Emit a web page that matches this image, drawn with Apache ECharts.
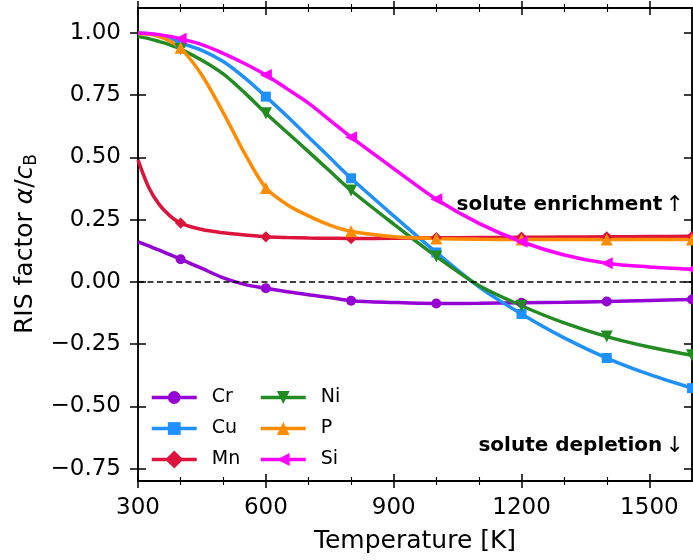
<!DOCTYPE html>
<html style="height: 100%">
<head>
<meta charset="utf-8">
<title>RIS factor</title>
</head>
<body style="height: 100%; margin: 0">
<div id="container" style="width: 693px; height: 560px"></div>
<script src="https://cdn.jsdelivr.net/npm/echarts@6/dist/echarts.min.js"></script>
<script>
var temps = [300, 325, 350, 375, 400, 450, 500, 550, 600, 650, 700, 750, 800, 900, 1000, 1100, 1200, 1300, 1400, 1500, 1600];
var markerTemps = [400, 600, 800, 1000, 1200, 1400, 1600];

var cr = [0.161, 0.144, 0.127, 0.109, 0.091, 0.054, 0.016, -0.01, -0.026, -0.04, -0.052, -0.063, -0.076, -0.083, -0.087, -0.086, -0.084, -0.082, -0.079, -0.075, -0.071];
var cu = [1.0, 0.997, 0.99, 0.978, 0.96, 0.93, 0.885, 0.82, 0.744, 0.665, 0.582, 0.499, 0.416, 0.265, 0.118, -0.02, -0.129, -0.225, -0.306, -0.372, -0.427];
var mn = [0.49, 0.38, 0.31, 0.265, 0.236, 0.21, 0.197, 0.188, 0.181, 0.178, 0.176, 0.175, 0.174, 0.175, 0.177, 0.178, 0.179, 0.18, 0.181, 0.182, 0.183];
var ni = [0.985, 0.977, 0.965, 0.952, 0.935, 0.89, 0.835, 0.76, 0.677, 0.6, 0.523, 0.445, 0.367, 0.232, 0.102, -0.015, -0.096, -0.165, -0.22, -0.262, -0.295];
var p = [0.998, 0.995, 0.985, 0.967, 0.94, 0.83, 0.68, 0.517, 0.377, 0.31, 0.265, 0.228, 0.203, 0.181, 0.174, 0.171, 0.17, 0.17, 0.17, 0.17, 0.17];
var si = [1.0, 0.998, 0.993, 0.986, 0.976, 0.953, 0.918, 0.877, 0.831, 0.775, 0.718, 0.65, 0.581, 0.455, 0.332, 0.235, 0.161, 0.108, 0.075, 0.06, 0.051];

var xMajorTicks = [300, 600, 900, 1200, 1500];
var xMinorTicks = [400, 500, 700, 800, 1000, 1100, 1300, 1400];
var yTicks = [-0.75, -0.5, -0.25, 0, 0.25, 0.5, 0.75, 1.0];

var FONT = 'DejaVu Sans';

function points(vals) {
    return temps.map(function (t, i) {
        var pt = [t, vals[i]];
        return markerTemps.indexOf(t) >= 0 ? pt : { value: pt, symbol: 'none' };
    });
}

function minus(s) {
    return String(s).replace('-', '\u2212');
}

function xAx(pos, ticks, len, inside, labels) {
    var ax = {
        type: 'value', position: pos, min: 300, max: 1600,
        axisLine: { show: true, onZero: false, lineStyle: { color: '#000', width: 1.5 } },
        axisTick: { show: true, inside: inside, length: len, customValues: ticks, lineStyle: { color: '#000', width: len > 5 ? 1.5 : 1.1 } },
        axisLabel: { show: false },
        splitLine: { show: false }
    };
    if (labels) {
        ax.axisLabel = {
            show: true, customValues: ticks, color: '#000', fontSize: 23, fontFamily: FONT, margin: 16,
            formatter: function (v) { return String(v); }
        };
        ax.name = 'Temperature [K]';
        ax.nameLocation = 'middle';
        ax.nameGap = 48;
        ax.nameTextStyle = { color: '#000', fontSize: 25, fontFamily: FONT };
    }
    return ax;
}

function yAx(pos, inside, labels) {
    var ax = {
        type: 'value', position: pos, min: -0.8, max: 1.1,
        axisLine: { show: true, onZero: false, lineStyle: { color: '#000', width: 1.5 } },
        axisTick: { show: true, inside: inside, length: 8, customValues: yTicks, lineStyle: { color: '#000', width: 1.5 } },
        axisLabel: { show: false },
        splitLine: { show: false }
    };
    if (labels) {
        ax.axisLabel = {
            show: true, customValues: yTicks, color: '#000', fontSize: 23, fontFamily: FONT, margin: 17,
            formatter: function (v) { return minus(v.toFixed(2)); }
        };
    }
    return ax;
}

var elements = [
    { name: 'Cr', data: cr, color: '#9400D3', symbol: 'circle', size: 10, rot: 0 },
    { name: 'Cu', data: cu, color: '#1E90FF', symbol: 'rect', size: 10, rot: 0 },
    { name: 'Mn', data: mn, color: '#DC143C', symbol: 'rect', size: 8, rot: 45 },
    { name: 'Ni', data: ni, color: '#228B22', symbol: 'triangle', size: 12, rot: 180 },
    { name: 'P', data: p, color: '#FF8C00', symbol: 'triangle', size: 12, rot: 0 },
    { name: 'Si', data: si, color: '#FF00FF', symbol: 'triangle', size: 12, rot: 90 }
];

var series = elements.map(function (e) {
    return {
        name: e.name, type: 'line', xAxisIndex: 0, yAxisIndex: 0,
        data: points(e.data),
        smooth: 0.3,
        symbol: e.symbol, symbolSize: e.size, symbolRotate: e.rot, showAllSymbol: true,
        lineStyle: { color: e.color, width: 3.5 },
        itemStyle: { color: e.color },
        emphasis: { disabled: true }
    };
});

series[0].markLine = {
    silent: true, symbol: 'none', label: { show: false },
    lineStyle: { color: '#000', type: [6, 3.5], width: 1.5 },
    data: [{ yAxis: 0 }]
};

var legendBase = {
    orient: 'vertical', padding: 0, itemGap: 12, itemWidth: 45, itemHeight: 16, top: 388,
    lineStyle: { width: 3.5 },
    textStyle: { color: '#000', fontSize: 19, fontFamily: FONT, padding: [0, 0, 0, 10] }
};

var option = {
    animation: false,
    textStyle: { fontFamily: FONT },
    grid: { left: 138, right: 1, top: 8, bottom: 79, containLabel: false },
    xAxis: [
        xAx('bottom', xMajorTicks, 7, false, true),
        xAx('bottom', xMajorTicks, 7, true, false),
        xAx('bottom', xMinorTicks, 4, false, false),
        xAx('bottom', xMinorTicks, 4, true, false),
        xAx('top', xMajorTicks, 7, false, false),
        xAx('top', xMajorTicks, 7, true, false),
        xAx('top', xMinorTicks, 4, false, false),
        xAx('top', xMinorTicks, 4, true, false)
    ],
    yAxis: [
        yAx('left', false, true),
        yAx('left', true, false),
        yAx('right', false, false),
        yAx('right', true, false)
    ],
    legend: [
        Object.assign({}, legendBase, { left: 150, data: ['Cr', 'Cu', 'Mn'] }),
        Object.assign({}, legendBase, { left: 259, data: ['Ni', 'P', 'Si'] })
    ],
    graphic: [
        {
            // y axis title
            type: 'text', x: 25, y: 244, rotation: Math.PI / 2,
            style: {
                text: '{n|RIS factor }{it|\u03b1}{n|/}{it|c}{sub|B}', align: 'center', verticalAlign: 'middle',
                rich: {
                    n: { fontSize: 25, fontFamily: FONT, fill: '#000', lineHeight: 30 },
                    it: { fontSize: 25, fontStyle: 'italic', fontFamily: FONT, fill: '#000', lineHeight: 30 },
                    sub: { fontSize: 17, fontFamily: FONT, fill: '#000', lineHeight: 30, verticalAlign: 'bottom', padding: [12, 0, 0, 0] }
                }
            }
        },
        {
            type: 'text', x: 684, y: 205,
            style: {
                text: '{b|solute enrichment} {a|\u2191}', align: 'right', verticalAlign: 'middle',
                rich: {
                    b: { fontSize: 20, fontWeight: 'bold', fontFamily: FONT, fill: '#000' },
                    a: { fontSize: 22, fontFamily: FONT, fill: '#000' }
                }
            }
        },
        {
            type: 'text', x: 684, y: 446,
            style: {
                text: '{b|solute depletion} {a|\u2193}', align: 'right', verticalAlign: 'middle',
                rich: {
                    b: { fontSize: 20, fontWeight: 'bold', fontFamily: FONT, fill: '#000' },
                    a: { fontSize: 22, fontFamily: FONT, fill: '#000' }
                }
            }
        }
    ],
    series: series
};

var myChart = echarts.init(document.getElementById('container'));
myChart.setOption(option);
</script>
</body>
</html>
